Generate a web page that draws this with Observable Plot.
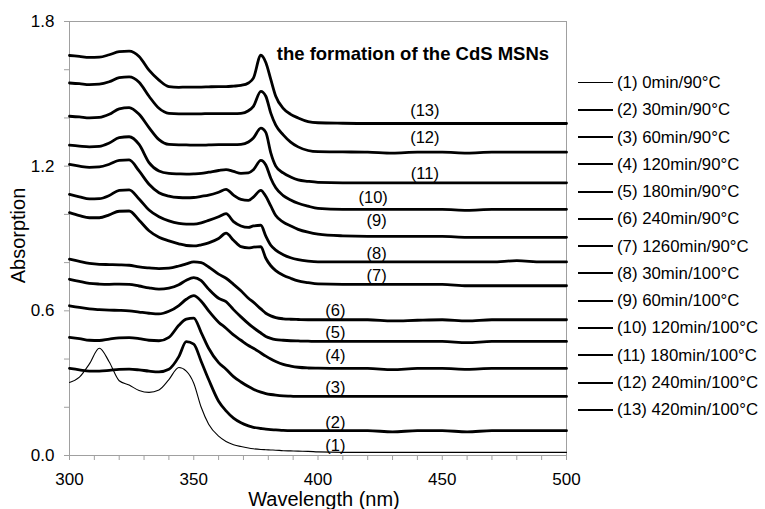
<!DOCTYPE html>
<html>
<head>
<meta charset="utf-8">
<script src="https://cdn.jsdelivr.net/npm/d3@7"></script>
<script src="https://cdn.jsdelivr.net/npm/@observablehq/plot@0.6"></script>
<style>
  html, body { margin: 0; padding: 0; background: #fff; }
  #wrap { position: relative; width: 765px; height: 509px; overflow: hidden; font-family: "Liberation Sans", Arial, sans-serif; }
  #legend { position: absolute; left: 578px; top: 69px; font-size: 16.8px; color: #000; }
  #legend .row { height: 27.27px; line-height: 27.27px; white-space: nowrap; display: flex; align-items: center; }
  #legend .sw { display: inline-block; width: 35px; border-top: 2.8px solid #000; margin-right: 4px; }
  #legend .sw.thin { border-top-width: 1.1px; }
</style>
</head>
<body>
<div id="wrap"><div id="legend"></div></div>
<script>
// Wavelength grid (nm)
const wl = [300,304,308,312,316,320,324,328,332,336,340,344,347,350,353,356,360,363,366,369,372,374,377,379,381,383,386,389,392,396,400,410,420,430,440,450,460,470,480,490,500];

// Absorption series (1)..(13)
const s1 = [0.303,0.325,0.38,0.445,0.388,0.31,0.292,0.27,0.262,0.272,0.315,0.365,0.35,0.3,0.2,0.13,0.08,0.058,0.045,0.037,0.031,0.028,0.025,0.024,0.023,0.022,0.02,0.019,0.018,0.017,0.015,0.013,0.013,0.013,0.013,0.013,0.013,0.013,0.013,0.013,0.013];
const s2 = [0.361,0.355,0.35,0.35,0.353,0.357,0.358,0.355,0.35,0.347,0.358,0.41,0.472,0.462,0.39,0.315,0.225,0.185,0.155,0.136,0.123,0.117,0.112,0.109,0.107,0.106,0.104,0.103,0.103,0.103,0.103,0.103,0.103,0.098,0.103,0.103,0.098,0.103,0.103,0.103,0.103];
const s3 = [0.49,0.485,0.478,0.477,0.483,0.488,0.489,0.485,0.478,0.476,0.49,0.54,0.566,0.57,0.51,0.445,0.385,0.358,0.327,0.305,0.286,0.275,0.263,0.257,0.253,0.25,0.247,0.246,0.245,0.245,0.245,0.245,0.245,0.245,0.245,0.245,0.245,0.245,0.245,0.245,0.245];
const s4 = [0.621,0.614,0.608,0.605,0.603,0.602,0.6,0.595,0.59,0.587,0.598,0.622,0.648,0.663,0.64,0.6,0.553,0.528,0.5,0.478,0.456,0.445,0.425,0.412,0.4,0.39,0.378,0.371,0.366,0.363,0.362,0.361,0.361,0.356,0.361,0.361,0.357,0.361,0.361,0.361,0.361];
const s5 = [0.731,0.722,0.714,0.711,0.71,0.711,0.71,0.703,0.695,0.69,0.694,0.708,0.727,0.738,0.725,0.69,0.652,0.638,0.605,0.575,0.547,0.53,0.508,0.494,0.486,0.481,0.478,0.476,0.475,0.474,0.473,0.473,0.473,0.473,0.473,0.473,0.468,0.473,0.473,0.473,0.473];
const s6 = [0.814,0.805,0.797,0.793,0.792,0.791,0.789,0.782,0.778,0.775,0.777,0.786,0.795,0.803,0.8,0.782,0.752,0.735,0.71,0.683,0.652,0.636,0.608,0.59,0.579,0.572,0.567,0.565,0.564,0.563,0.563,0.563,0.563,0.558,0.561,0.563,0.558,0.563,0.563,0.563,0.563];
const s7 = [1.007,0.995,0.986,0.986,0.998,1.013,1.014,0.976,0.932,0.905,0.89,0.878,0.871,0.869,0.874,0.882,0.9,0.922,0.893,0.866,0.861,0.864,0.866,0.818,0.787,0.767,0.748,0.735,0.724,0.717,0.712,0.71,0.71,0.71,0.71,0.71,0.704,0.704,0.704,0.704,0.704];
const s8 = [1.083,1.073,1.064,1.065,1.078,1.1,1.102,1.064,1.018,0.99,0.973,0.963,0.96,0.96,0.965,0.975,0.99,1.003,0.97,0.952,0.946,0.952,0.955,0.91,0.872,0.852,0.833,0.82,0.812,0.806,0.803,0.803,0.803,0.803,0.803,0.803,0.803,0.803,0.808,0.803,0.803];
const s9 = [1.207,1.2,1.195,1.197,1.208,1.224,1.226,1.18,1.125,1.09,1.076,1.07,1.069,1.07,1.075,1.08,1.092,1.104,1.08,1.062,1.058,1.072,1.1,1.075,1.035,0.995,0.968,0.952,0.938,0.926,0.918,0.911,0.909,0.909,0.909,0.909,0.905,0.905,0.905,0.905,0.905];
const s10 = [1.287,1.283,1.28,1.282,1.296,1.318,1.322,1.29,1.215,1.18,1.17,1.168,1.167,1.168,1.17,1.175,1.182,1.186,1.178,1.17,1.172,1.185,1.224,1.205,1.15,1.11,1.078,1.06,1.046,1.034,1.025,1.021,1.021,1.021,1.021,1.021,1.017,1.021,1.021,1.021,1.021];
const s11 = [1.407,1.404,1.4,1.402,1.415,1.438,1.443,1.415,1.36,1.31,1.29,1.288,1.288,1.287,1.287,1.288,1.289,1.289,1.289,1.29,1.3,1.317,1.358,1.34,1.255,1.2,1.172,1.155,1.143,1.137,1.133,1.131,1.131,1.131,1.131,1.131,1.131,1.131,1.131,1.131,1.131];
const s12 = [1.545,1.542,1.538,1.54,1.55,1.567,1.57,1.548,1.49,1.44,1.419,1.417,1.417,1.417,1.417,1.418,1.418,1.418,1.418,1.419,1.43,1.448,1.51,1.49,1.42,1.37,1.33,1.3,1.28,1.265,1.26,1.259,1.258,1.254,1.258,1.258,1.254,1.258,1.258,1.258,1.258];
const s13 = [1.659,1.655,1.651,1.652,1.662,1.675,1.677,1.655,1.598,1.557,1.53,1.527,1.528,1.528,1.528,1.529,1.53,1.53,1.532,1.535,1.545,1.565,1.66,1.63,1.56,1.49,1.44,1.415,1.4,1.385,1.38,1.378,1.377,1.377,1.377,1.377,1.377,1.377,1.377,1.377,1.377];

const series = [s1,s2,s3,s4,s5,s6,s7,s8,s9,s10,s11,s12,s13];

// Legend and curve label texts
const legendNames = ["(1) 0min/90°C","(2) 30min/90°C","(3) 60min/90°C","(4) 120min/90°C","(5) 180min/90°C","(6) 240min/90°C","(7) 1260min/90°C","(8) 30min/100°C","(9) 60min/100°C","(10) 120min/100°C","(11) 180min/100°C","(12) 240min/100°C","(13) 420min/100°C"];
const curveLabels = ["(1)","(2)","(3)","(4)","(5)","(6)","(7)","(8)","(9)","(10)","(11)","(12)","(13)"];
const labelWl = [407,407,407,407,407,407,423.6,423.6,423.6,422.2,443,443,443];
const labelAbs = [0.041,0.137,0.283,0.414,0.508,0.6,0.745,0.835,0.975,1.068,1.168,1.316,1.431];
const titleText = "the formation of the CdS MSNs";
const titleWl = 383.4, titleAbs = 1.663;
const yTicks = [0,0.2,0.4,0.6,0.8,1.0,1.2,1.4,1.6,1.8];
const xTicks = [300,310,320,330,340,350,360,370,380,390,400,410,420,430,440,450,460,470,480,490,500];

const rows = [];
series.forEach((s, i) => s.forEach((v, j) => rows.push({id: i + 1, wl: wl[j], v})));
const thinRows = rows.filter(d => d.id === 1);
const thickRows = rows.filter(d => d.id !== 1);
const labels = curveLabels.map((t, i) => ({t, x: labelWl[i], y: labelAbs[i]}));

const chart = Plot.plot({
  width: 765,
  height: 509,
  marginLeft: 69,
  marginRight: 199,
  marginTop: 21,
  marginBottom: 54,
  style: {fontFamily: '"Liberation Sans", Arial, sans-serif', background: "white", color: "black"},
  x: {domain: [300, 500]},
  y: {domain: [0, 1.8]},
  marks: [
    Plot.frame({stroke: "#a0a0a0", strokeWidth: 1}),
    Plot.axisY({ticks: yTicks, tickSize: 5, tickPadding: 10, stroke: "#a0a0a0", fill: "black", fontSize: 17, label: null,
      tickFormat: d => (Math.abs(d / 0.6 - Math.round(d / 0.6)) < 1e-6 ? d.toFixed(1) : "")}),
    Plot.axisX({ticks: xTicks, tickSize: 5, tickPadding: 12, stroke: "#a0a0a0", fill: "black", fontSize: 17, label: null,
      tickFormat: d => (d % 50 === 0 ? String(d) : "")}),
    Plot.line(thinRows, {x: "wl", y: "v", z: "id", stroke: "black", strokeWidth: 1.1, curve: "monotone-x"}),
    Plot.line(thickRows, {x: "wl", y: "v", z: "id", stroke: "black", strokeWidth: 2.8, curve: "monotone-x", strokeLinejoin: "round"}),
    Plot.text(labels, {x: "x", y: "y", text: "t", fontSize: 16.5, fill: "black"}),
    Plot.text([titleText], {x: () => titleWl, y: () => titleAbs, textAnchor: "start", fontWeight: "bold", fontSize: 18.5, fill: "black"}),
    Plot.text(["Absorption"], {frameAnchor: "left", textAnchor: "middle", lineAnchor: "middle", dx: -50.5, dy: -3, rotate: -90, fontSize: 20, fill: "black"}),
    Plot.text(["Wavelength (nm)"], {frameAnchor: "bottom", textAnchor: "middle", lineAnchor: "middle", dx: 6, dy: 44.5, fontSize: 20, fill: "black"})
  ]
});
const wrap = document.getElementById("wrap");
wrap.insertBefore(chart, wrap.firstChild);

const legend = document.getElementById("legend");
legendNames.forEach((name, i) => {
  const row = document.createElement("div");
  row.className = "row";
  const sw = document.createElement("span");
  sw.className = i === 0 ? "sw thin" : "sw";
  const tx = document.createElement("span");
  tx.textContent = name;
  row.appendChild(sw);
  row.appendChild(tx);
  legend.appendChild(row);
});
</script>
</body>
</html>
